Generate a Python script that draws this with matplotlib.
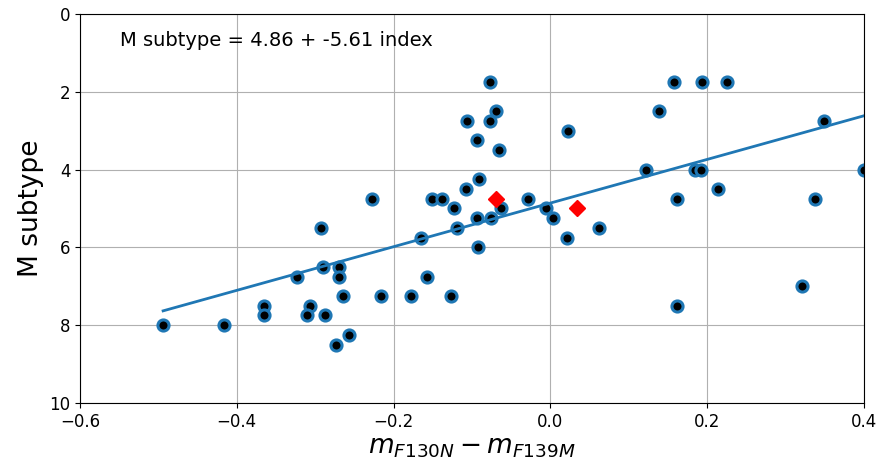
import matplotlib
matplotlib.use("Agg")
import matplotlib.pyplot as plt
import numpy as np

# colour index vs M subtype
index = np.array([
    -0.494, -0.416, -0.365, -0.365, -0.323, -0.306, -0.310, -0.288, -0.293, -0.290,
    -0.270, -0.270, -0.265, -0.274, -0.257, -0.228, -0.216, -0.178, -0.157, -0.165,
    -0.127, -0.151, -0.138, -0.123, -0.119, -0.108, -0.094, -0.092, -0.107, -0.093,
    -0.091, -0.077, -0.070, -0.077, -0.066, 0.022, 0.138, 0.158, 0.194, 0.225,
    0.349, 0.122, 0.185, 0.192, 0.400, -0.029, 0.214, 0.162, 0.337, -0.063,
    -0.076, -0.006, 0.003, 0.021, 0.062, 0.162, 0.321])
subtype = np.array([
    8.0, 8.0, 7.5, 7.75, 6.75, 7.5, 7.75, 7.75, 5.5, 6.5,
    6.5, 6.75, 7.25, 8.5, 8.25, 4.75, 7.25, 7.25, 6.75, 5.75,
    7.25, 4.75, 4.75, 5.0, 5.5, 4.5, 5.25, 6.0, 2.75, 3.25,
    4.25, 1.75, 2.5, 2.75, 3.5, 3.0, 2.5, 1.75, 1.75, 1.75,
    2.75, 4.0, 4.0, 4.0, 4.0, 4.75, 4.5, 4.75, 4.75, 5.0,
    5.25, 5.0, 5.25, 5.75, 5.5, 7.5, 7.0])

# highlighted targets
test_index = [-0.069, 0.034]
test_subtype = [4.75, 5.0]

intercept, slope = 4.86, -5.61

fig = plt.figure(figsize=(8.79, 4.68), dpi=100)
ax = fig.add_axes([80 / 879, 65 / 468, 784 / 879, 389 / 468])

ax.plot(index, subtype, "o", mfc="k", mec="C0", ms=8, mew=2.2)
xs = np.sort(index)
ax.plot(xs, intercept + slope * xs, "-", color="C0", lw=2)
ax.plot(test_index, test_subtype, "rD", ms=8)

ax.set_xlim(-0.6, 0.4)
ax.set_ylim(10, 0)
ax.set_xticks([-0.6, -0.4, -0.2, 0.0, 0.2, 0.4])
ax.set_yticks([0, 2, 4, 6, 8, 10])
ax.tick_params(labelsize=12)
ax.grid(True)
ax.set_axisbelow(True)

ax.text(0.051, 0.933, "M subtype = %.2f + %.2f index" % (intercept, slope),
        transform=ax.transAxes, va="center", ha="left", fontsize=14)
ax.set_xlabel(r"$m_{F130N} - m_{F139M}$", fontsize=19, labelpad=2)
ax.set_ylabel("M subtype", fontsize=19)

fig.savefig("out.png", dpi=100)
